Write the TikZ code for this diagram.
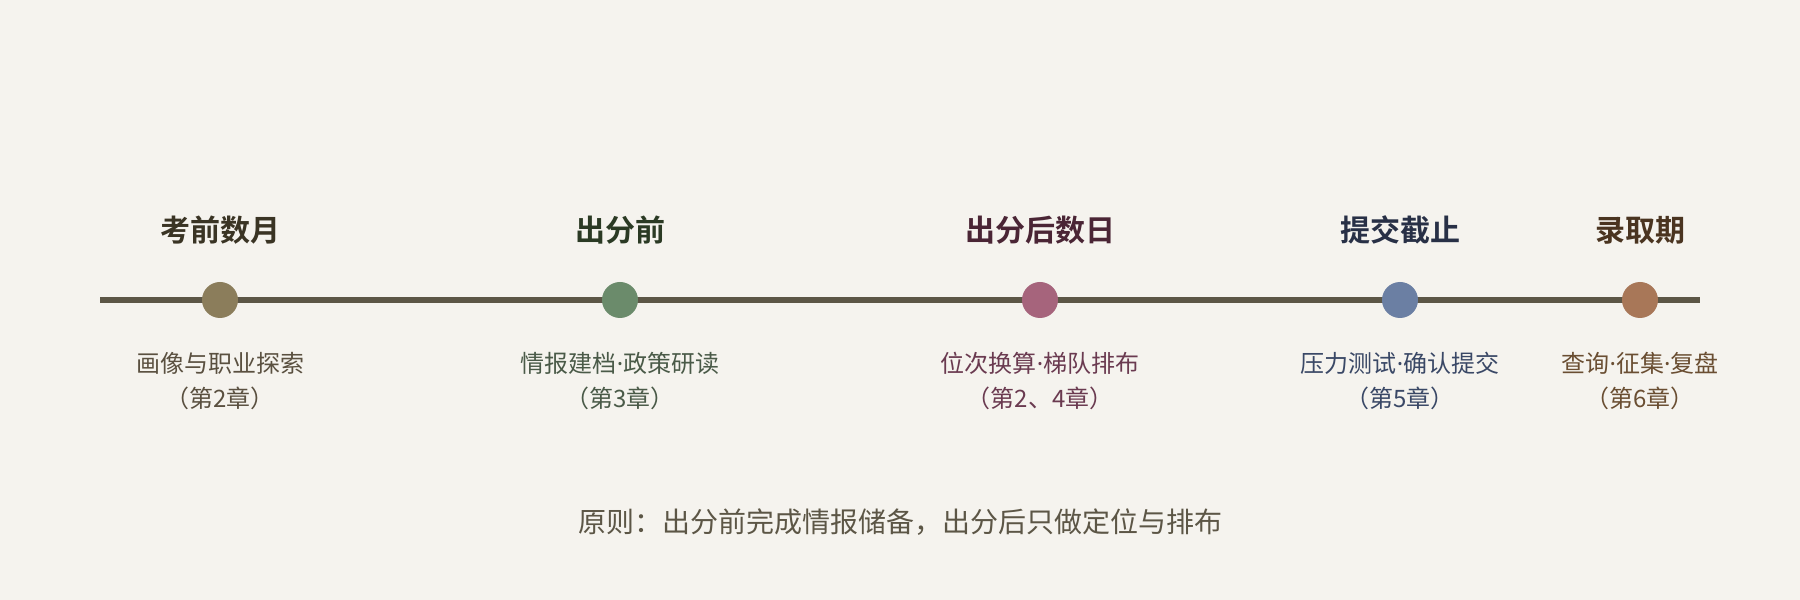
\documentclass[tikz,border=0pt]{standalone}
\usepackage{fontspec}
\setmainfont{Noto Sans CJK SC}[BoldFont={Noto Sans CJK SC Bold}]
\newfontfamily\latinschrift{Noto Sans}
\newcommand{\mpunkt}{{\latinschrift ·}}
\usetikzlibrary{positioning}
\definecolor{hintergrund}{HTML}{F5F3EE}
\definecolor{linie}{HTML}{5C5646}
\definecolor{punktA}{HTML}{8B7D5B}
\definecolor{punktB}{HTML}{6B8B6B}
\definecolor{punktC}{HTML}{A6647C}
\definecolor{punktD}{HTML}{6B7FA3}
\definecolor{punktE}{HTML}{A87758}
\definecolor{titelA}{HTML}{3A3424}
\definecolor{titelB}{HTML}{2B3A24}
\definecolor{titelC}{HTML}{4A2535}
\definecolor{titelD}{HTML}{283046}
\definecolor{titelE}{HTML}{4A3420}
\definecolor{textA}{HTML}{5A5040}
\definecolor{textB}{HTML}{4A5A48}
\definecolor{textC}{HTML}{6A3A50}
\definecolor{textD}{HTML}{3A4866}
\definecolor{textE}{HTML}{6A4E32}
\begin{document}
\begin{tikzpicture}[x=1pt, y=1pt,
  punkt/.style={circle, inner sep=0pt, minimum size=36pt, draw=none},
  phase/.style={font=\fontsize{30}{35}\selectfont\bfseries, inner sep=0pt},
  aufgabe/.style={font=\fontsize{24}{35}\selectfont, align=center, inner sep=0pt}]
\fill[hintergrund] (0,0) rectangle (1800,600);
\coordinate (anfang) at (100,300);
\coordinate (ende) at (1700,300);
\draw[linie, line width=6pt] (anfang) -- (ende);
\foreach \x/\farbe/\titelfarbe/\textfarbe/\titel/\beschreibung/\kapitel [count=\i] in {
  220/punktA/titelA/textA/考前数月/画像与职业探索/第2章,
  620/punktB/titelB/textB/出分前/情报建档\mpunkt 政策研读/第3章,
  1040/punktC/titelC/textC/出分后数日/位次换算\mpunkt 梯队排布/第2、4章,
  1400/punktD/titelD/textD/提交截止/压力测试\mpunkt 确认提交/第5章,
  1640/punktE/titelE/textE/录取期/查询\mpunkt 征集\mpunkt 复盘/第6章}
{
  \node[punkt, fill=\farbe] (p\i) at (\x,300) {};
  \node[phase, text=\titelfarbe] (t\i) at (\x,370) {\titel};
  \node[aufgabe, text=\textfarbe] (b\i) at (\x,219) {\beschreibung\\（\kapitel）};
}
\node[font=\fontsize{28}{33}\selectfont, text=linie, inner sep=0pt] (regel) at (900,78) {原则：出分前完成情报储备，出分后只做定位与排布};
\end{tikzpicture}
\end{document}
